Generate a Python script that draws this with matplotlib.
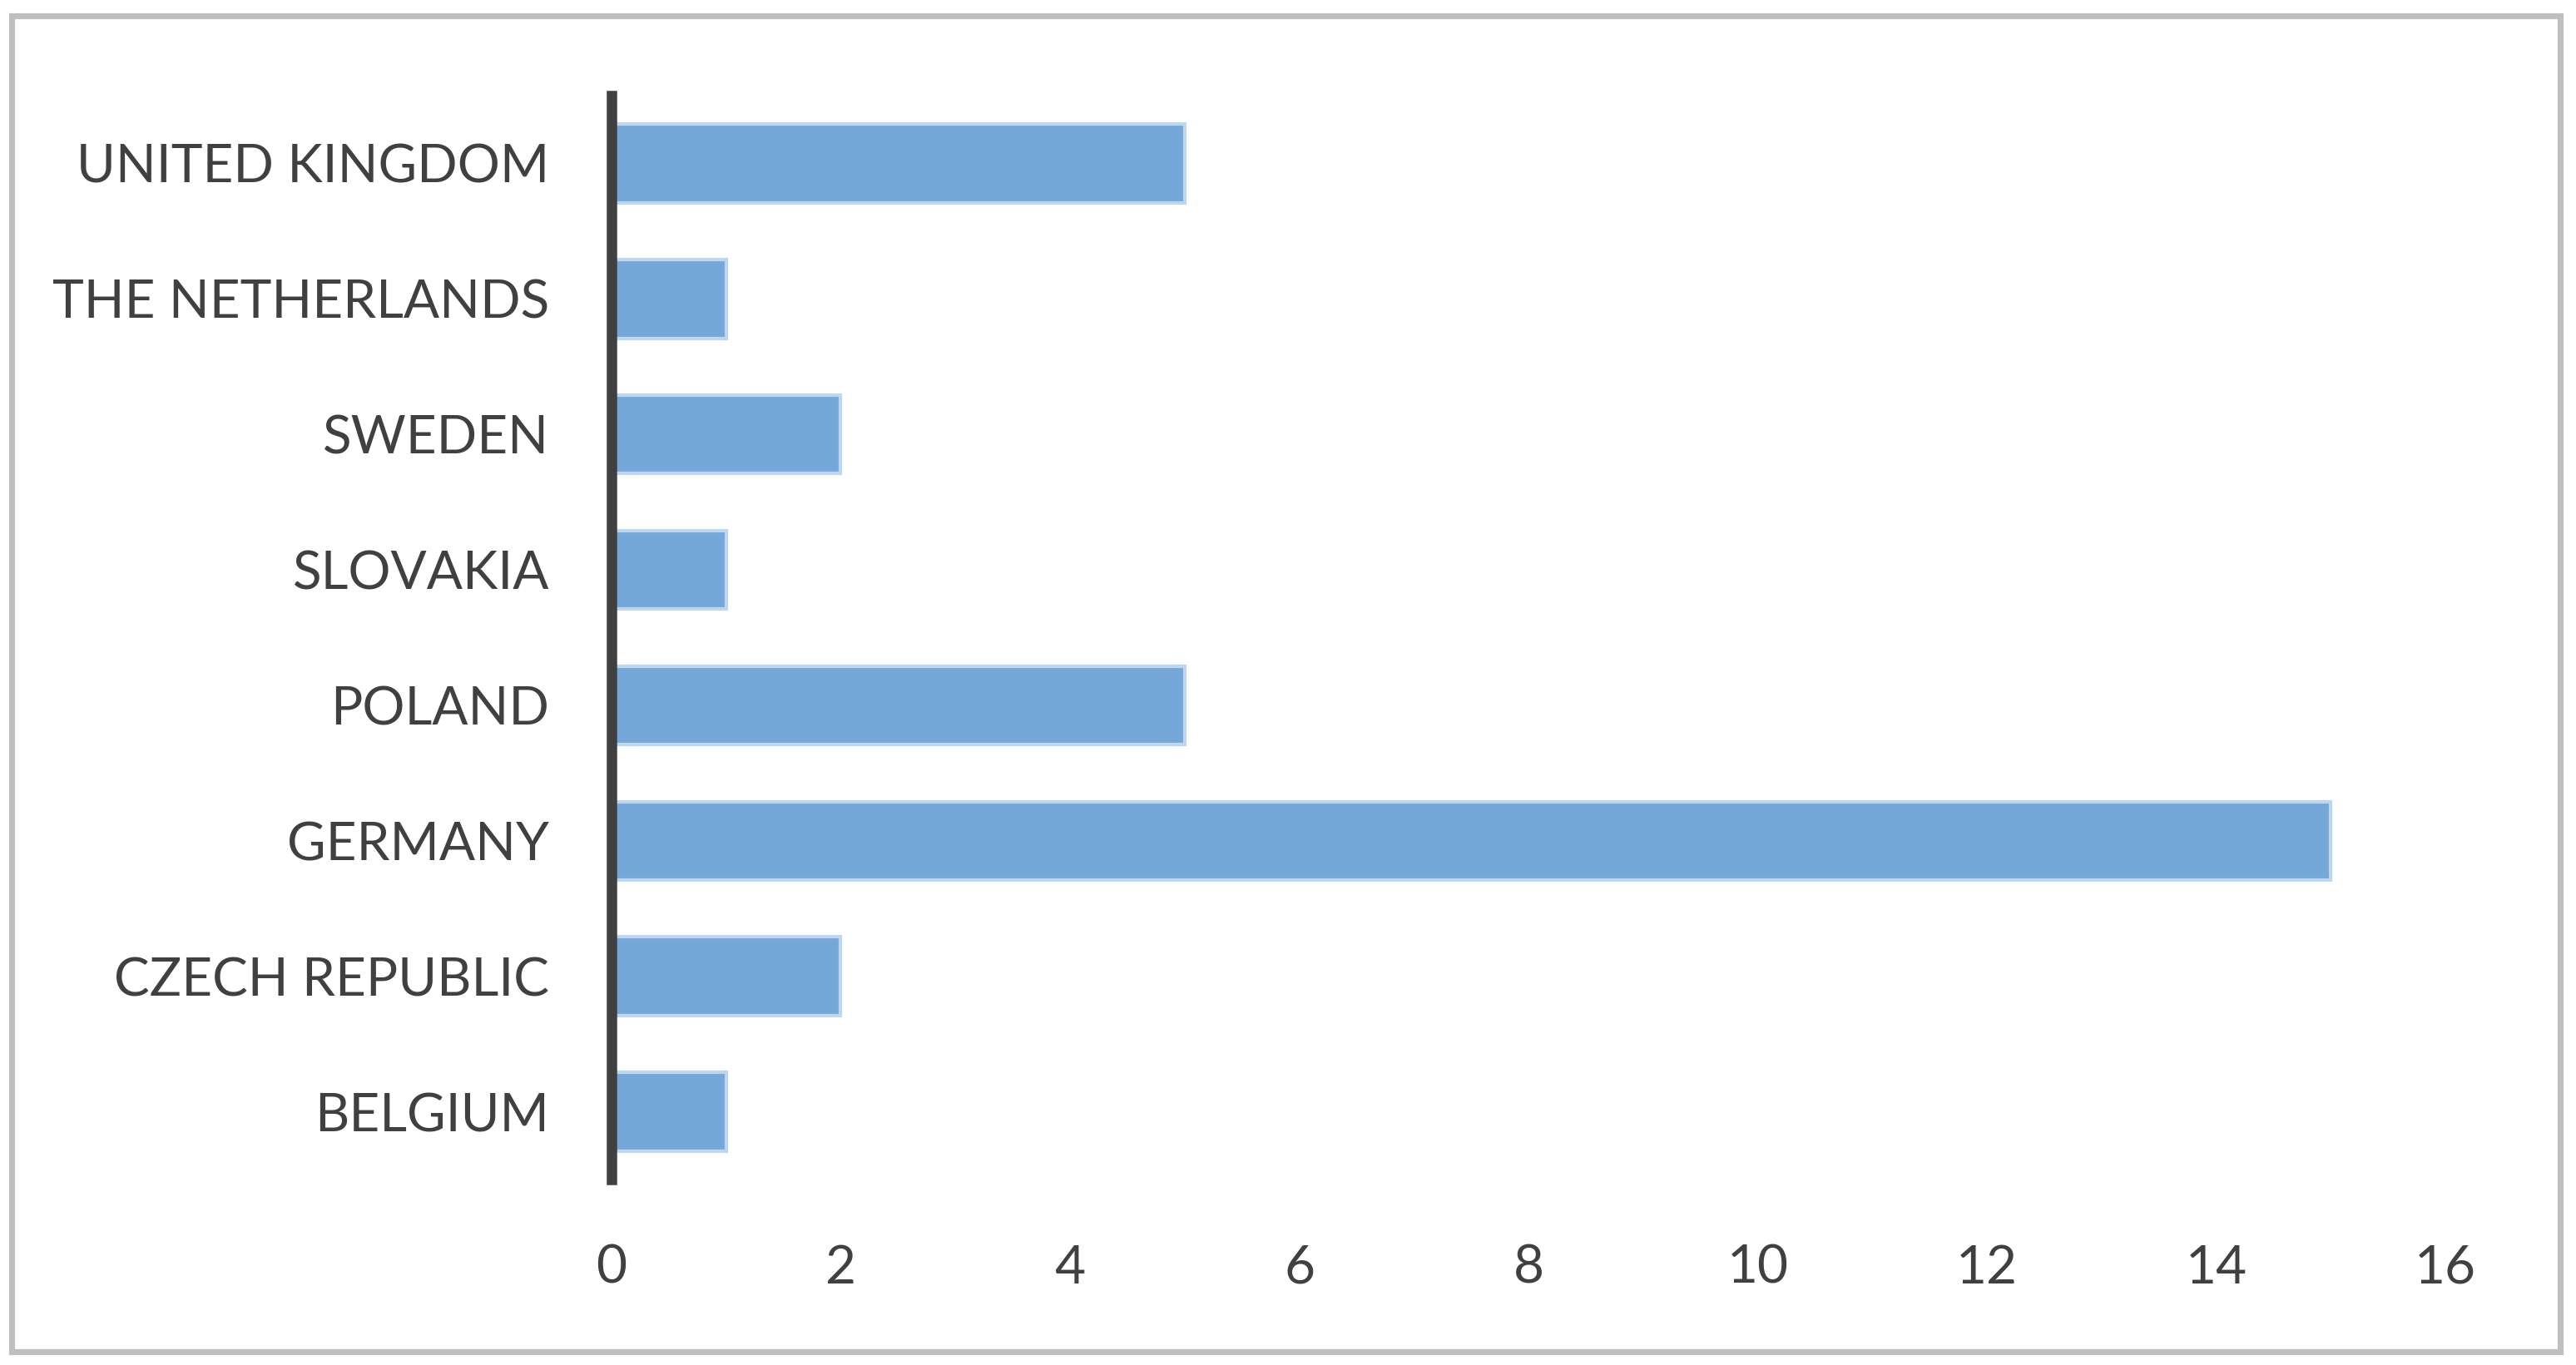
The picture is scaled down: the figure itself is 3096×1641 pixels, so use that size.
import matplotlib.pyplot as plt
from matplotlib.patches import Rectangle

# Daten (von unten nach oben)
countries = ['BELGIUM', 'CZECH REPUBLIC', 'GERMANY', 'POLAND',
             'SLOVAKIA', 'SWEDEN', 'THE NETHERLANDS', 'UNITED KINGDOM']
counts = [1, 2, 15, 5, 1, 2, 1, 5]
xticks = [0, 2, 4, 6, 8, 10, 12, 14, 16]

plt.rcParams['font.family'] = ['Lato', 'DejaVu Sans']
text_color = '#404040'

fig = plt.figure(figsize=(15.48, 8.205), dpi=200)
ax = fig.add_axes([0.2374, 0.1359, 0.9493 - 0.2374, 0.9299 - 0.1359])

ax.barh(countries, counts, height=0.58, color='#75A8D9',
        edgecolor='#BDD7EE', linewidth=1.5)

ax.set_xlim(0, 16)
ax.set_ylim(-0.5, len(countries) - 0.5)
ax.set_xticks(xticks)

for side in ['top', 'right', 'bottom']:
    ax.spines[side].set_visible(False)
ax.spines['left'].set_color(text_color)
ax.spines['left'].set_linewidth(4.5)

ax.tick_params(axis='both', length=0, labelsize=23, labelcolor=text_color)
ax.tick_params(axis='x', pad=28)
ax.tick_params(axis='y', pad=27)

# Rahmen um das Diagramm
fig.patches.append(Rectangle((0.0045, 0.0095), 0.9895, 0.979,
                             transform=fig.transFigure, fill=False,
                             edgecolor='#BFBFBF', linewidth=2.6))

fig.savefig('out.png', dpi=200, facecolor='white')
